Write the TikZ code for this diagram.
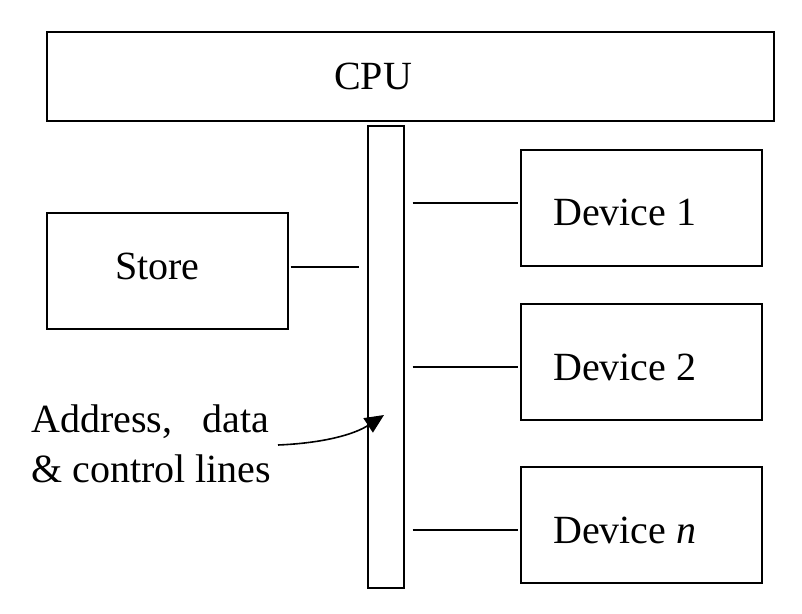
\documentclass[tikz,border=0pt]{standalone}
\usepackage{fontspec}
\setmainfont{Liberation Serif}
\usetikzlibrary{arrows.meta}
\begin{document}
\begin{tikzpicture}[x=1pt,y=-1pt,
  box/.style={draw=black,line width=1.3pt,rectangle,inner sep=0pt},
  lbl/.style={inner sep=0pt,anchor=base west,font=\fontsize{40}{50}\selectfont},
  wire/.style={draw=black,line width=1.3pt}]
\useasboundingbox (0,0) rectangle (802,613);
\node[box,minimum width=727pt,minimum height=89pt] (cpu) at (410.5,76.5) {};
\node[box,minimum width=36pt,minimum height=462pt] (bus) at (386,357) {};
\node[box,minimum width=241pt,minimum height=116pt] (store) at (167.5,271) {};
\node[box,minimum width=241pt,minimum height=116pt] (dev1) at (641.5,208) {};
\node[box,minimum width=241pt,minimum height=116pt] (dev2) at (641.5,362) {};
\node[box,minimum width=241pt,minimum height=116pt] (devn) at (641.5,525) {};
\node[lbl,anchor=base] (cputxt) at (373,89) {CPU};
\node[lbl] (storetxt) at (115,279) {Store};
\node[lbl] (d1txt) at (553,225) {Device 1};
\node[lbl] (d2txt) at (553,380) {Device 2};
\node[lbl] (dntxt) at (553,543) {Device \textit{n}};
\node[lbl] (addr1) at (31,432) {Address,\hspace{0.75em}data};
\node[lbl] (addr2) at (31,482) {\& control lines};
\draw[wire,shorten <=2pt,shorten >=8pt] ([yshift=4pt]store.east) -- ([yshift=4pt]store.east -| bus.west);
\draw[wire,shorten <=8pt,shorten >=2pt] ([yshift=5pt]dev1.west -| bus.east) -- ([yshift=5pt]dev1.west);
\draw[wire,shorten <=8pt,shorten >=2pt] ([yshift=-5pt]dev2.west -| bus.east) -- ([yshift=-5pt]dev2.west);
\draw[wire,shorten <=8pt,shorten >=2pt] ([yshift=-5pt]devn.west -| bus.east) -- ([yshift=-5pt]devn.west);
\coordinate (arrstart) at (278,445);
\coordinate (arrend) at (384,415);
\draw[wire,line width=1.6pt,-{Triangle[length=19pt,width=17pt]}] (arrstart) .. controls (325,443) and (355,434) .. (arrend);
\end{tikzpicture}
\end{document}
